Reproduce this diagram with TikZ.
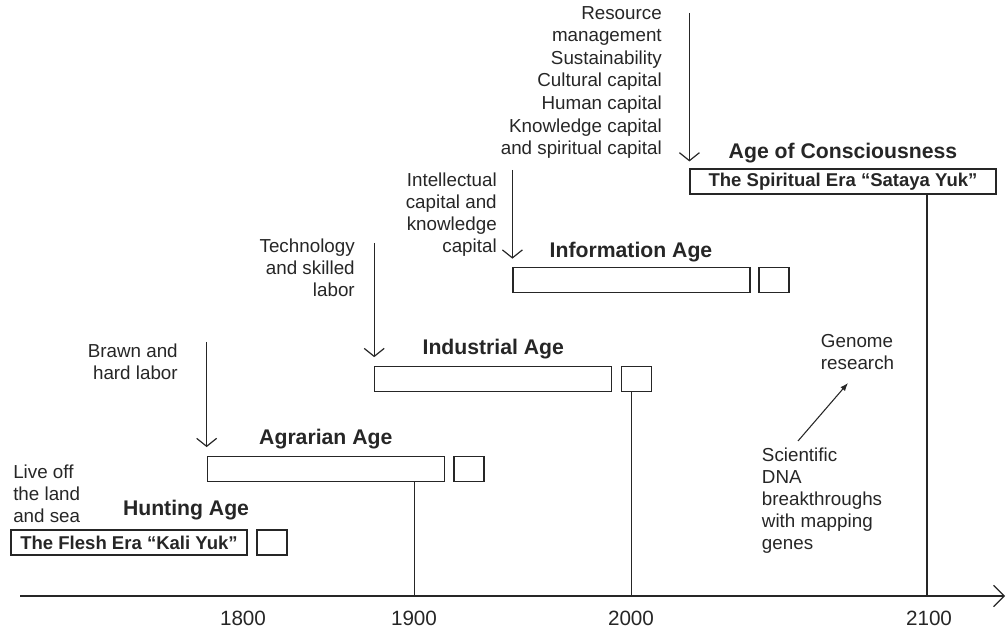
\documentclass[tikz,border=0pt]{standalone}
\usepackage{fontspec}
\setmainfont{Liberation Sans}
\usetikzlibrary{arrows.meta}
\definecolor{ink}{HTML}{262626}
\newcommand\lblfont{\fontsize{14.1pt}{16.5pt}\selectfont}
\newcommand\lblfontwide{\fontsize{14.1pt}{16.95pt}\selectfont}
\newcommand\agefont{\fontsize{15.9pt}{18pt}\selectfont\bfseries}
\newcommand\erafont{\fontsize{13.9pt}{16pt}\selectfont\bfseries}
\newcommand\yearfont{\fontsize{15.5pt}{18pt}\selectfont}
\begin{document}
\begin{tikzpicture}[x=0.75pt,y=-0.75pt,
  every node/.style={inner sep=0pt, text=ink},
  line/.style={draw=ink, line width=0.9pt},
  bar/.style={line, minimum height=18.75pt, minimum width=177.75pt},
  sq/.style={line, minimum height=18.75pt, minimum width=22.5pt},
  era/.style={line, minimum height=18.75pt, font=\erafont},
  age/.style={anchor=base, font=\agefont},
  year/.style={anchor=base, font=\yearfont},
  down/.style={line, -{Straight Barb[length=6pt,width=15pt]}, shorten >=6.4pt},
  lbl/.style={font=\lblfont}]
\useasboundingbox (0,0) rectangle (1007,630);

% time axis and year marks
\coordinate (axL) at (20,596);
\coordinate (axR) at (1005,596);
\coordinate (y1900) at (414.5,596);
\coordinate (y2000) at (631.5,596);
\coordinate (y2100) at (927,596);
\draw[line, -{Straight Barb[length=8pt,width=16pt]}] (axL) -- (axR);
\node[year] (l1800) at (243,625) {1800};
\node[year] (l1900) at (414,625) {1900};
\node[year] (l2000) at (631,625) {2000};
\node[year] (l2100) at (929,625) {2100};

% Hunting age
\node[era, minimum width=177pt] (flesh) at (129,542.5) {The Flesh Era “Kali Yuk”};
\node[sq] (fleshsq) at (272,542.5) {};
\node[age] (hunt) at (186,516) {Hunting Age};
\node[lbl, anchor=north west, align=left] (live) at (13,464.6) {Live off\\the land\\and sea};

% Agrarian age
\node[bar] (agrbar) at (325.75,468.75) {};
\node[sq] (agrsq) at (469,468.75) {};
\node[age] (agr) at (325.8,445) {Agrarian Age};
\node[lbl, anchor=north east, align=right] (brawn) at (178,343.3) {Brawn and\\hard labor};
\coordinate (brawntop) at (agrbar.north west |- 0,342);
\draw[down] (brawntop) -- (agrbar.north west);

% Industrial age
\node[bar] (indbar) at (493.3,378.8) {};
\node[sq] (indsq) at (636.3,378.8) {};
\node[age] (ind) at (493.3,355) {Industrial Age};
\node[lbl, anchor=north east, align=right] (tech) at (355,238.3) {Technology\\and skilled\\labor};
\coordinate (techtop) at (indbar.north west |- 0,243);
\draw[down] (techtop) -- (indbar.north west);

% Information age
\node[bar] (infobar) at (631.5,280.3) {};
\node[sq] (infosq) at (774,280.3) {};
\node[age] (info) at (631,257.3) {Information Age};
\node[lbl, anchor=north east, align=right] (intel) at (497,172.6) {Intellectual\\capital and\\knowledge\\capital};
\coordinate (inteltop) at (infobar.north west |- 0,170);
\draw[down] (inteltop) -- (infobar.north west);

% Age of consciousness
\node[era, minimum width=229.5pt] (spirit) at (843,181.5) {The Spiritual Era “Sataya Yuk”};
\node[age] (cons) at (843,159) {Age of Consciousness};
\node[font=\lblfontwide, anchor=north east, align=right] (res) at (662,6) {Resource\\management\\Sustainability\\Cultural capital\\Human capital\\Knowledge capital\\and spiritual capital};
\coordinate (constop) at (spirit.north west |- 0,13);
\draw[down, shorten >=5.2pt] (constop) -- (spirit.north west);

% drop lines to the axis
\draw[line] (agrbar.south -| y1900) -- (y1900);
\draw[line] (indsq.south -| y2000) -- (y2000);
\draw[line] (spirit.south -| y2100) -- (y2100);

% genome research note
\node[lbl, anchor=north west, align=left] (genome) at (820.7,334.6) {Genome\\research};
\node[lbl, anchor=north west, align=left] (dna) at (761.7,447.6) {Scientific\\DNA\\breakthroughs\\with mapping\\genes};
\coordinate (gs) at (798,441);
\coordinate (ge) at (848,383);
\draw[line, line width=0.8pt, -{Latex[length=6pt,width=4.5pt]}] (gs) -- (ge);
\end{tikzpicture}
\end{document}
